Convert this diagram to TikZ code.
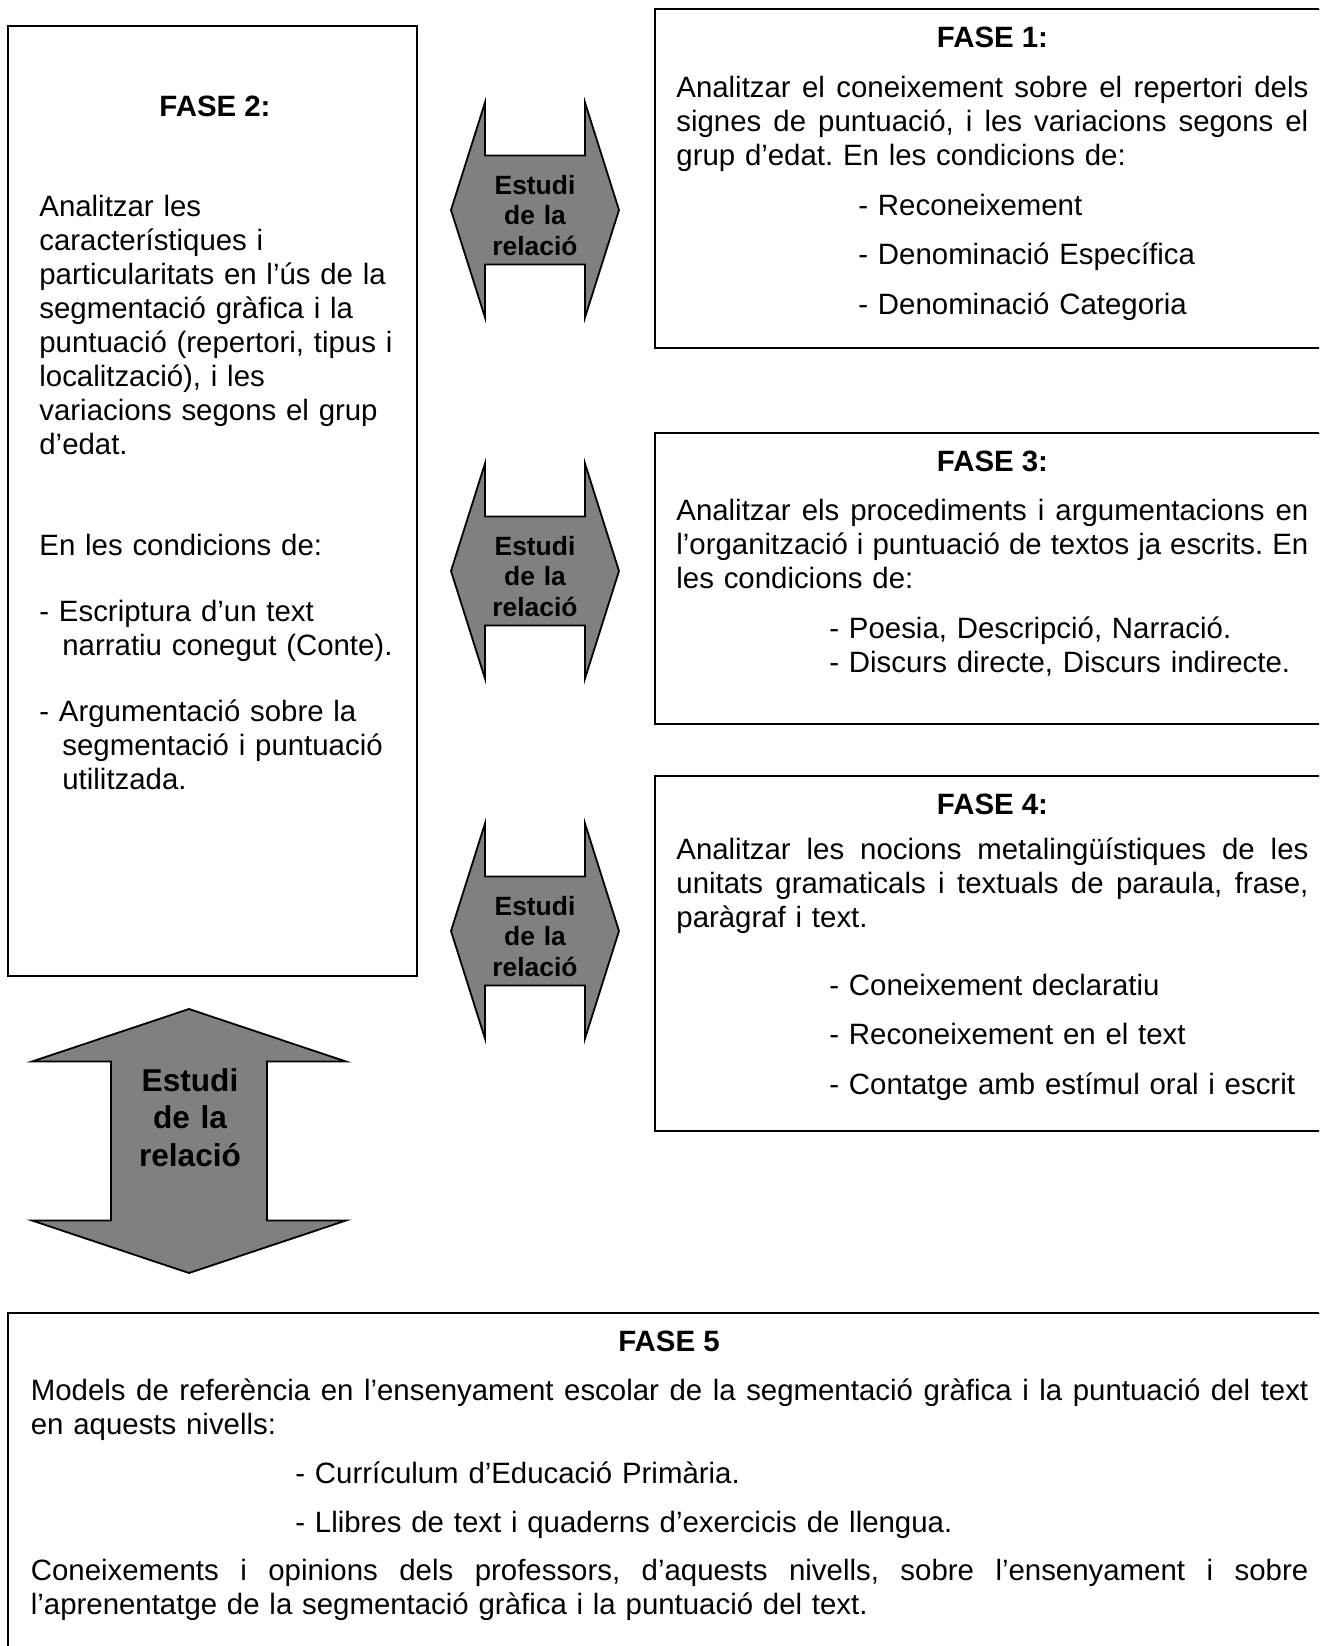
\documentclass[tikz,border=0pt]{standalone}
\usepackage{fontspec}
\setmainfont{Liberation Sans}
\usetikzlibrary{positioning,calc}
\definecolor{relgray}{RGB}{128,128,128}
\def \u {0.5pt}
% one justified line of a given width
\newcommand\jline[2][316pt]{\leavevmode\hbox to #1{\spaceskip=\fontdimen2\font plus 1fil\relax #2}}
\frenchspacing

\begin{document}
\begin{tikzpicture}[x=\u,y=-\u,
    box/.style={draw,line width=1pt,inner sep=0pt},
    head/.style={anchor=base,inner sep=0pt,font=\bfseries\fontsize{14.7}{17}\selectfont},
    body/.style={anchor=base west,inner sep=0pt,align=left,text width=#1,
      font=\fontsize{14.7}{17}\selectfont},
    body/.default=316pt,
    reltxt/.style={anchor=base,inner sep=0pt,align=center,text width=60pt,
      font=\bfseries\fontsize{13.2}{15.25}\selectfont},
    relfill/.style={fill=relgray,draw=black,line width=0.9pt,line join=miter},
    relh/.pic={
      \filldraw[relfill] (-84,0) -- (-50,-107.5) -- (-50,-54.5) -- (50,-54.5)
        -- (50,-107.5) -- (84,0) -- (50,107.5) -- (50,54.5) -- (-50,54.5)
        -- (-50,107.5) -- cycle;
      \node[reltxt] (-t) at (0,-16) {Estudi\\de la\\relació};
    },
    relv/.pic={
      \filldraw[relfill] (0,-132) -- (157,-79.5) -- (78,-79.5) -- (78,79.5)
        -- (157,79.5) -- (0,132) -- (-157,79.5) -- (-78,79.5) -- (-78,-79.5)
        -- (-157,-79.5) -- cycle;
      \node[reltxt,text width=80pt,font=\bfseries\fontsize{15.8}{18.9}\selectfont]
        (-t) at (1,-50) {Estudi\\de la\\relació};
    }]
  \useasboundingbox (0,0) rectangle (1319,1646);
  \clip (0,0) rectangle (1319,1646);

  % boxes
  \node[box,minimum width=409*\u,minimum height=950*\u] (f2) at (212.5,501) {};
  \node[box,minimum width=675*\u,minimum height=339*\u] (f1) at (992.5,178.5) {};
  \node[box,minimum width=675*\u,minimum height=291*\u,below=41.5pt of f1] (f3) {};
  \node[box,minimum width=675*\u,minimum height=355*\u,below=25pt of f3] (f4) {};
  \node[box,minimum width=1322*\u,minimum height=400*\u] (f5) at (669,1513) {};

  % fase 1
  \node[head] (h1) at ($(f1.north)+(0,39)$) {FASE 1:};
  \node[body] (p1) at ($(f1.north west)+(22,89)$) {%
    \jline{Analitzar el coneixement sobre el repertori dels}\\
    \jline{signes de puntuació, i les variacions segons el}\\
    grup d’edat. En les condicions de:};
  \node[body=250pt] (c1) at ($(f1.north west)+(204,207)$) {%
    - Reconeixement\\[7.75pt]
    - Denominació Específica\\[7.75pt]
    - Denominació Categoria};

  % fase 2
  \node[head] (h2) at ($(f2.north)+(2.5,91)$) {FASE 2:};
  \node[body=185pt] (p2) at ($(f2.north west)+(32,191)$) {%
    Analitzar les\\
    característiques i\\
    particularitats en l’ús de la\\
    segmentació gràfica i la\\
    puntuació (repertori, tipus i\\
    localització), i les\\
    variacions segons el grup\\
    d’edat.};
  \node[body=185pt] (q2) at ($(f2.north west)+(32,530)$) {En les condicions de:};
  \node[body=185pt] (c2) at ($(f2.north west)+(32,596)$) {%
    - Escriptura d’un text\\
    \hspace*{11.5pt}narratiu conegut (Conte).\\[16pt]
    - Argumentació sobre la\\
    \hspace*{11.5pt}segmentació i puntuació\\
    \hspace*{11.5pt}utilitzada.};

  % fase 3
  \node[head] (h3) at ($(f3.north)+(0,39)$) {FASE 3:};
  \node[body] (p3) at ($(f3.north west)+(22,88)$) {%
    \jline{Analitzar els procediments i argumentacions en}\\
    \jline{l’organització i puntuació de textos ja escrits. En}\\
    les condicions de:};
  \node[body=250pt] (c3) at ($(f3.north west)+(175,206)$) {%
    - Poesia, Descripció, Narració.\\
    - Discurs directe, Discurs indirecte.};

  % fase 4
  \node[head] (h4) at ($(f4.north)+(0,39)$) {FASE 4:};
  \node[body] (p4) at ($(f4.north west)+(22,84)$) {%
    \jline{Analitzar les nocions metalingüístiques de les}\\
    \jline{unitats gramaticals i textuals de paraula, frase,}\\
    paràgraf i text.};
  \node[body=250pt] (c4) at ($(f4.north west)+(175,220)$) {%
    - Coneixement declaratiu\\[7.75pt]
    - Reconeixement en el text\\[7.75pt]
    - Contatge amb estímul oral i escrit};

  % fase 5
  \node[head] (h5) at ($(f5.north)+(0,39)$) {FASE 5};
  \node[body=638.75pt] (p5) at ($(f5.north west)+(23.5,88)$) {%
    \jline[638.75pt]{Models de referència en l’ensenyament escolar de la segmentació gràfica i la puntuació del text}\\
    en aquests nivells:};
  \node[body=400pt] (c5) at ($(f5.north west)+(288,171)$) {%
    - Currículum d’Educació Primària.\\[7.75pt]
    - Llibres de text i quaderns d’exercicis de llengua.};
  \node[body=638.75pt] (e5) at ($(f5.north west)+(23.5,268)$) {%
    \jline[638.75pt]{Coneixements i opinions dels professors, d’aquests nivells, sobre l’ensenyament i sobre}\\
    l’aprenentatge de la segmentació gràfica i la puntuació del text.};

  % arrows
  \pic (a1) at (535,210) {relh};
  \pic (a2) at (535,571) {relh};
  \pic (a3) at (535,931) {relh};
  \pic (a4) at (189,1141) {relv};
\end{tikzpicture}
\end{document}
